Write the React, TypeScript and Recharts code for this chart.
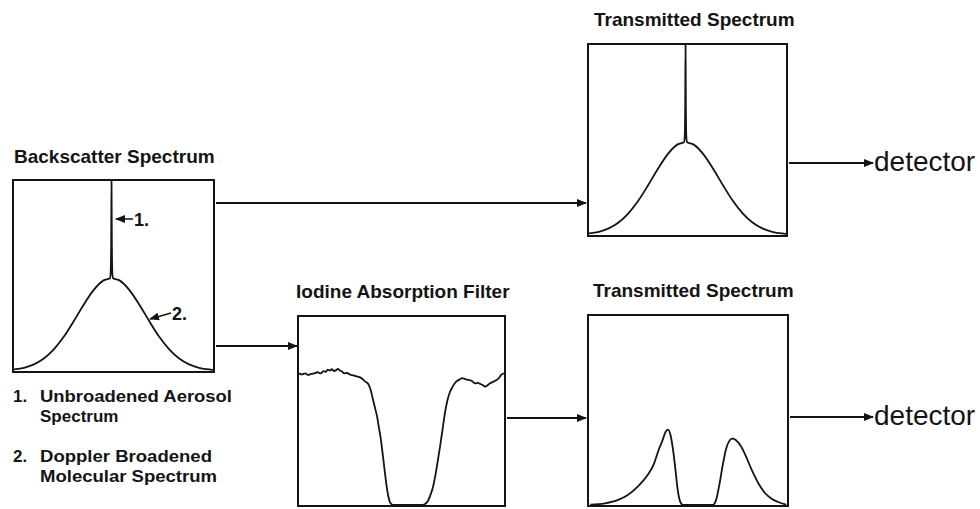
import { LineChart, Line, XAxis, YAxis } from 'recharts'

// spectra: [position 0-100 across the box, relative intensity 0-1]
const backscatterSpectrum = [
  [0, 0.008], [5, 0.017], [10, 0.035], [15, 0.066], [20, 0.114], [25, 0.18],
  [30, 0.262], [35, 0.349], [40, 0.426], [45, 0.477], [48.2, 0.488],
  [48.6, 0.52], [48.85, 0.7], [49, 1], [49.15, 0.7], [49.4, 0.52], [49.8, 0.488],
  [53, 0.477], [58, 0.426], [63, 0.349], [68, 0.262], [73, 0.18], [78, 0.114],
  [83, 0.066], [88, 0.035], [93, 0.017], [98, 0.008], [100, 0.006],
]

const iodineFilter = [
  [0, 0.7], [1.5, 0.695], [3, 0.7], [4.5, 0.692], [6, 0.697], [7.5, 0.7], [9, 0.706],
  [10.5, 0.7], [12, 0.712], [13, 0.708], [14, 0.72], [15, 0.715], [16, 0.722],
  [17, 0.713], [18, 0.716], [19, 0.724], [20, 0.715], [21, 0.71], [22, 0.7],
  [23.5, 0.702], [25, 0.693], [26.5, 0.69], [28, 0.684], [29.5, 0.68], [31, 0.67],
  [32.5, 0.655], [33.7, 0.645], [35, 0.61], [36, 0.565], [37, 0.52], [38.1, 0.47],
  [39, 0.41], [39.7, 0.366], [40.5, 0.3], [41.3, 0.228], [42.1, 0.155], [42.9, 0.089],
  [43.7, 0.04], [44.5, 0.012], [46, 0], [60.4, 0], [61.5, 0.005], [62.8, 0.02],
  [64, 0.05], [65.2, 0.089], [66.4, 0.15], [67.6, 0.228], [68.8, 0.31], [70, 0.4],
  [71.2, 0.49], [72.4, 0.557], [73.6, 0.6], [74.8, 0.627], [76, 0.648], [77.2, 0.661],
  [78.4, 0.668], [79.6, 0.675], [81, 0.67], [82.8, 0.665], [84.2, 0.66], [86, 0.647],
  [87.2, 0.65], [88.4, 0.644], [89.6, 0.638], [90.8, 0.63], [92, 0.637], [93.2, 0.647],
  [94.7, 0.655], [96.3, 0.665], [97.5, 0.675], [98.7, 0.693], [100, 0.7],
]

const filteredSpectrum = [
  [0.7, 0.002], [8.1, 0.009], [14.7, 0.027], [19.6, 0.053], [24.6, 0.097],
  [29.5, 0.157], [32.8, 0.218], [35.3, 0.295], [37, 0.338], [38.6, 0.385],
  [39.8, 0.399], [41.1, 0.373], [42.4, 0.295], [43.6, 0.192], [44.7, 0.088],
  [46, 0.019], [47.4, 0], [62.5, 0], [64.2, 0.027], [65.8, 0.105], [67.5, 0.209],
  [69.2, 0.295], [70.8, 0.338], [72.4, 0.351], [74.1, 0.344], [76.6, 0.313],
  [79.1, 0.261], [82.3, 0.183], [85.6, 0.114], [89, 0.062], [92.2, 0.033],
  [95.5, 0.016], [99.6, 0.002],
]

const toRows = (pts: number[][]) => pts.map(([x, y]) => ({ x, y }))

const INK = '#141414'
const FONT = '"Liberation Sans", Arial, Helvetica, sans-serif'

function SpectrumBox({ left, top, width, height, data }: {
  left: number; top: number; width: number; height: number; data: number[][]
}) {
  return (
    <div style={{
      position: 'absolute', left, top, width, height,
      border: `2px solid ${INK}`, boxSizing: 'border-box',
    }}>
      <LineChart width={width - 4} height={height - 4} data={toRows(data)}
        margin={{ top: 0, right: 0, bottom: 0, left: 0 }}>
        <XAxis dataKey="x" type="number" domain={[0, 100]} hide />
        <YAxis type="number" domain={[0, 1]} hide />
        <Line dataKey="y" type="monotone" stroke={INK} strokeWidth={1.8}
          dot={false} isAnimationActive={false} />
      </LineChart>
    </div>
  )
}

export default function App() {
  const title = { fontFamily: FONT, fontWeight: 700, fontSize: 19, fill: INK }
  const legend = { fontFamily: FONT, fontWeight: 700, fontSize: 17, fill: INK }
  const det = { fontFamily: FONT, fontSize: 28, fill: INK }
  return (
    <div style={{ position: 'absolute', left: 0, top: 0, width: 980, height: 509, background: '#fff' }}>
      <SpectrumBox left={12} top={179} width={203} height={194} data={backscatterSpectrum} />
      <SpectrumBox left={587} top={43} width={201} height={194} data={backscatterSpectrum} />
      <SpectrumBox left={297} top={315} width={209} height={192} data={iodineFilter} />
      <SpectrumBox left={587} top={314} width={202} height={193} data={filteredSpectrum} />

      <svg width={980} height={509} style={{ position: 'absolute', left: 0, top: 0, pointerEvents: 'none' }}>
        <defs>
          <marker id="ah" markerWidth={10} markerHeight={8} refX={9} refY={4}
            orient="auto" markerUnits="userSpaceOnUse">
            <path d="M0,0 L10,4 L0,8 z" fill={INK} />
          </marker>
        </defs>
        <g stroke={INK} strokeWidth={2} markerEnd="url(#ah)">
          <line x1={216} y1={203} x2={586} y2={203} />
          <line x1={216} y1={346} x2={297} y2={346} />
          <line x1={507} y1={418} x2={586} y2={418} />
          <line x1={789} y1={163} x2={873} y2={163} />
          <line x1={790} y1={417} x2={873} y2={417} />
          <line x1={133} y1={219} x2={116} y2={219} strokeWidth={1.5} />
          <line x1={171} y1={313} x2={150} y2={319} strokeWidth={1.5} />
        </g>

        <text x={14} y={163} {...title}>Backscatter Spectrum</text>
        <text x={594} y={26} {...title}>Transmitted Spectrum</text>
        <text x={296} y={298} {...title}>Iodine Absorption Filter</text>
        <text x={593} y={297} {...title}>Transmitted Spectrum</text>

        <text x={134} y={226} {...legend} fontSize={18}>1.</text>
        <text x={172} y={320} {...legend} fontSize={18}>2.</text>

        <text x={13} y={402} {...legend}>1.</text>
        <text x={40} y={402} {...legend} textLength={192} lengthAdjust="spacingAndGlyphs">Unbroadened Aerosol</text>
        <text x={40} y={422} {...legend}>Spectrum</text>
        <text x={13} y={462} {...legend}>2.</text>
        <text x={40} y={462} {...legend} textLength={172} lengthAdjust="spacingAndGlyphs">Doppler Broadened</text>
        <text x={40} y={482} {...legend} textLength={177} lengthAdjust="spacingAndGlyphs">Molecular Spectrum</text>

        <text x={874} y={171} {...det}>detector</text>
        <text x={874} y={425} {...det}>detector</text>
      </svg>
    </div>
  )
}
